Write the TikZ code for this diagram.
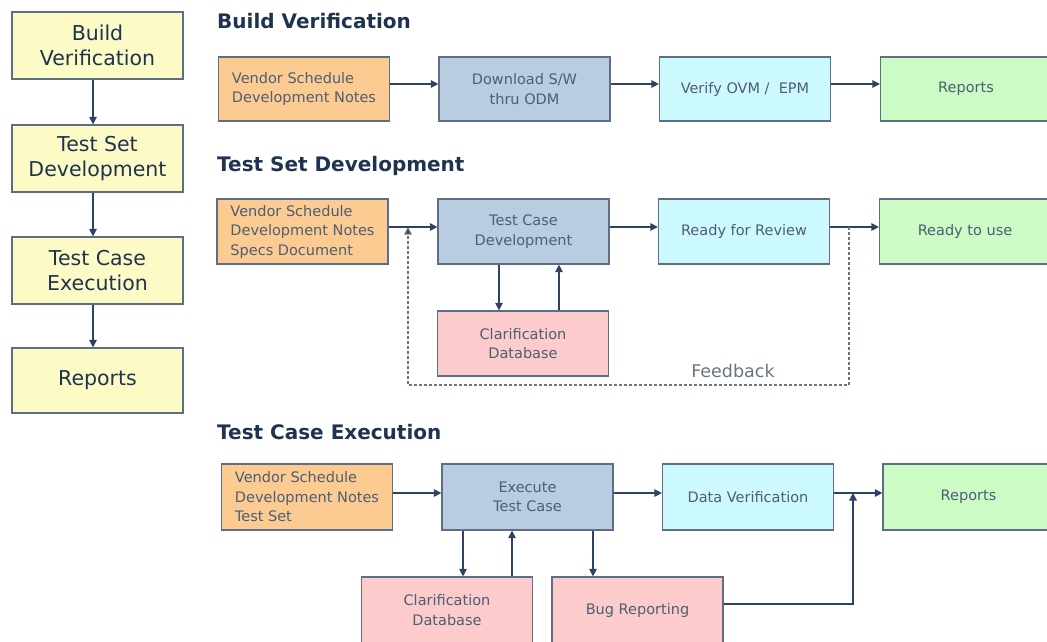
\documentclass[tikz,border=0pt]{standalone}
\usepackage{fontspec}
\setmainfont{DejaVu Sans}
\usetikzlibrary{arrows.meta}
\definecolor{cOrange}{HTML}{FBCB92}
\definecolor{cBlue}{HTML}{B9CCE2}
\definecolor{cCyan}{HTML}{CCF9FD}
\definecolor{cGreen}{HTML}{CCFBC6}
\definecolor{cPink}{HTML}{FCCBCB}
\definecolor{cYellow}{HTML}{FCFBC6}
\definecolor{cBorder}{HTML}{5E6F85}
\definecolor{cLine}{HTML}{2E4262}
\definecolor{cText}{HTML}{4E5E74}
\definecolor{cTitle}{HTML}{1F3350}
\definecolor{cDash}{HTML}{6A7480}
\tikzset{
  box/.style={draw=cBorder, line width=1.2pt, inner sep=0pt, minimum width=171pt, minimum height=65pt, text=cText, font=\fontsize{14.5}{19.5}\selectfont, align=center},
  orangebox/.style={box, fill=cOrange, align=left},
  bluebox/.style={box, fill=cBlue},
  cyanbox/.style={box, fill=cCyan},
  greenbox/.style={box, fill=cGreen},
  pinkbox/.style={box, fill=cPink},
  yellowbox/.style={box, fill=cYellow, text=cTitle, font=\fontsize{20.5}{25}\selectfont},
  title/.style={anchor=west, inner sep=0pt, text=cTitle, font=\fontsize{20}{24}\selectfont\bfseries},
  arr/.style={draw=cLine, line width=1.3pt, -{Triangle[length=7.5pt,width=7.5pt]}},
  dashline/.style={draw=cDash, line width=1.2pt, dash pattern=on 3pt off 2pt},
  dasharr/.style={dashline, -{Triangle[length=7.5pt,width=7.5pt,fill=cLine]}}
}
\begin{document}
\begin{tikzpicture}[x=1pt,y=-1pt]
\useasboundingbox (0,0) rectangle (1047,642);
\clip (0,0) rectangle (1047,642);
% left column
\node[yellowbox, minimum height=67pt] (L1) at (97.5,45.5) {Build\\Verification};
\node[yellowbox, minimum height=67pt] (L2) at (97.5,158.5) {Test Set\\Development};
\node[yellowbox, minimum height=67pt] (L3) at (97.5,270.5) {Test Case\\Execution};
\node[yellowbox] (L4) at (97.5,380.5) {Reports};
\draw[arr] ([xshift=-4.5pt]L1.south) -- ([xshift=-4.5pt]L2.north);
\draw[arr] ([xshift=-4.5pt]L2.south) -- ([xshift=-4.5pt]L3.north);
\draw[arr] ([xshift=-4.5pt]L3.south) -- ([xshift=-4.5pt]L4.north);
% titles
\node[title] (T1) at (217,21) {Build Verification};
\node[title] (T2) at (217,166) {Test Set Development};
\node[title] (T3) at (217,432) {Test Case Execution};
% row 1
\node[orangebox, minimum height=64pt] (o1) at (304,89) {Vendor Schedule\\Development Notes};
\node[bluebox, minimum height=64pt] (b1) at (524.5,89) {Download S/W\\thru ODM};
\node[cyanbox, minimum height=64pt] (c1) at (745,89) {Verify OVM / \ EPM};
\node[greenbox, minimum height=64pt] (g1) at (966,89) {Reports};
\draw[arr] ([yshift=5pt]o1.east) -- ([yshift=5pt]b1.west);
\draw[arr] ([yshift=5pt]b1.east) -- ([yshift=5pt]c1.west);
\draw[arr] ([yshift=5pt]c1.east) -- ([yshift=5pt]g1.west);
% row 2
\node[orangebox] (o2) at (302.5,231.5) {Vendor Schedule\\Development Notes\\Specs Document};
\node[bluebox] (b2) at (523.5,231.5) {Test Case\\Development};
\node[cyanbox] (c2) at (744,231.5) {Ready for Review};
\node[greenbox] (g2) at (965,231.5) {Ready to use};
\node[pinkbox] (p2) at (523,343.5) {Clarification\\Database};
\draw[arr] ([yshift=4.5pt]o2.east) -- ([yshift=4.5pt]b2.west);
\draw[arr] ([yshift=4.5pt]b2.east) -- ([yshift=4.5pt]c2.west);
\draw[arr] ([yshift=4.5pt]c2.east) -- ([yshift=4.5pt]g2.west);
\draw[arr] ([xshift=-24.5pt]b2.south) -- ([xshift=-24pt]p2.north);
\draw[arr] ([xshift=36pt]p2.north) -- ([xshift=35.5pt]b2.south);
\coordinate (fbStart) at (849,227);
\coordinate (fbEnd) at (408,227);
\draw[dasharr] (fbStart) -- (849,385) -- (408,385) -- (fbEnd);
\node[text=cDash, font=\fontsize{17.5}{20}\selectfont, inner sep=0pt] (fb) at (733,371) {Feedback};
% row 3
\node[orangebox, minimum height=66pt] (o3) at (307,497) {Vendor Schedule\\Development Notes\\Test Set};
\node[bluebox, minimum height=66pt] (b3) at (527.5,497) {Execute\\Test Case};
\node[cyanbox, minimum height=66pt] (c3) at (748,497) {Data Verification};
\node[greenbox, minimum height=66pt] (g3) at (968.5,497) {Reports};
\node[pinkbox, minimum height=66pt] (p3) at (447,610) {Clarification\\Database};
\node[pinkbox, minimum height=66pt] (q3) at (637.5,610) {Bug Reporting};
\draw[arr] ([yshift=4pt]o3.east) -- ([yshift=4pt]b3.west);
\draw[arr] ([yshift=4pt]b3.east) -- ([yshift=4pt]c3.west);
\draw[arr] ([yshift=4pt]c3.east) -- ([yshift=4pt]g3.west);
\draw[arr] ([xshift=-64.5pt]b3.south) -- ([xshift=16pt]p3.north);
\draw[arr] ([xshift=65pt]p3.north) -- ([xshift=-15.5pt]b3.south);
\draw[arr] ([xshift=65.5pt]b3.south) -- ([xshift=-44.5pt]q3.north);
\coordinate (bugJoin) at (853,493);
\draw[arr] ([yshift=6pt]q3.east) -| (bugJoin);
\end{tikzpicture}
\end{document}
